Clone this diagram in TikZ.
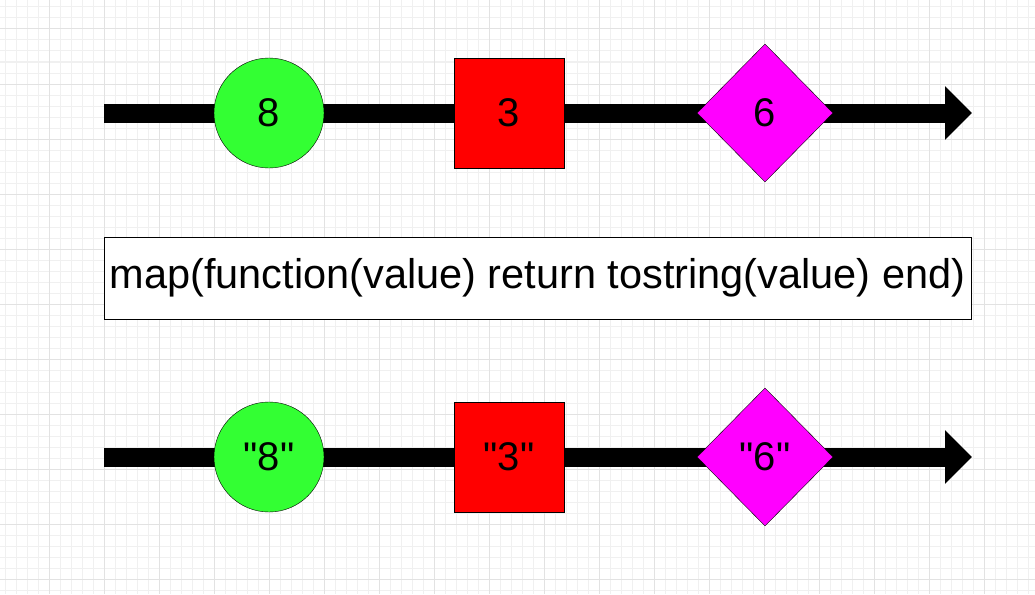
\documentclass[tikz,border=0pt]{standalone}
\usepackage{fontspec}
\setmainfont{Liberation Sans}
\usetikzlibrary{shapes.geometric, arrows.meta, positioning}

\definecolor{marblegreen}{HTML}{33FF33}
\definecolor{marblered}{HTML}{FF0000}
\definecolor{marblepink}{HTML}{FF00FF}
\definecolor{gridminor}{HTML}{F0F0F0}
\definecolor{gridmajor}{HTML}{E2E2E2}

\begin{document}
\begin{tikzpicture}[
        x=1pt, y=-1pt,
        timeline/.style={-{Triangle[length=27pt, width=52pt]}, line width=19pt, black},
        circ_marble/.style={circle, draw, fill=marblegreen, minimum size=110pt, inner sep=0pt, font=\fontsize{40}{46}\selectfont},
        sq_marble/.style={rectangle, draw, fill=marblered, minimum size=110pt, inner sep=0pt, font=\fontsize{40}{46}\selectfont},
        dia_marble/.style={diamond, draw, fill=marblepink, minimum width=136pt, minimum height=138pt, inner sep=0pt, font=\fontsize{40}{46}\selectfont},
        operator/.style={rectangle, draw, fill=white, minimum width=867pt, minimum height=82pt, inner sep=0pt, font=\fontsize{41.5}{48}\selectfont}
    ]
    \useasboundingbox (0,0) rectangle (1035,594);
    \fill[white] (0,0) rectangle (1035,594);

    % --- grid ---
    \foreach \gx in {5,16,...,1035} \draw[gridminor, line width=1pt] (\gx,0) -- (\gx,594);
    \foreach \gy in {7,18,...,594} \draw[gridminor, line width=1pt] (0,\gy) -- (1035,\gy);
    \foreach \gx in {49,104,...,1035} \draw[gridmajor, line width=1pt] (\gx,0) -- (\gx,594);
    \foreach \gy in {29,84,...,594} \draw[gridmajor, line width=1pt] (0,\gy) -- (1035,\gy);

    % --- input stream ---
    \coordinate (in_start) at (104,113);
    \coordinate (in_end) at (972,113);
    \draw[timeline] (in_start) -- (in_end);
    \node[circ_marble] (in8) at (269,113) {8};
    \node[sq_marble] (in3) at (509,113) {3};
    \node[dia_marble] (in6) at (765,113) {6};

    % --- operator ---
    \node[operator] (op) at (537.5,278) {map(function(value) return tostring(value) end)};

    % --- output stream ---
    \coordinate (out_start) at (104,457);
    \coordinate (out_end) at (972,457);
    \draw[timeline] (out_start) -- (out_end);
    \node[circ_marble] (out8) at (269,457) {\textquotedbl 8\textquotedbl};
    \node[sq_marble] (out3) at (509,457) {\textquotedbl 3\textquotedbl};
    \node[dia_marble] (out6) at (765,457) {\textquotedbl 6\textquotedbl};

\end{tikzpicture}
\end{document}
